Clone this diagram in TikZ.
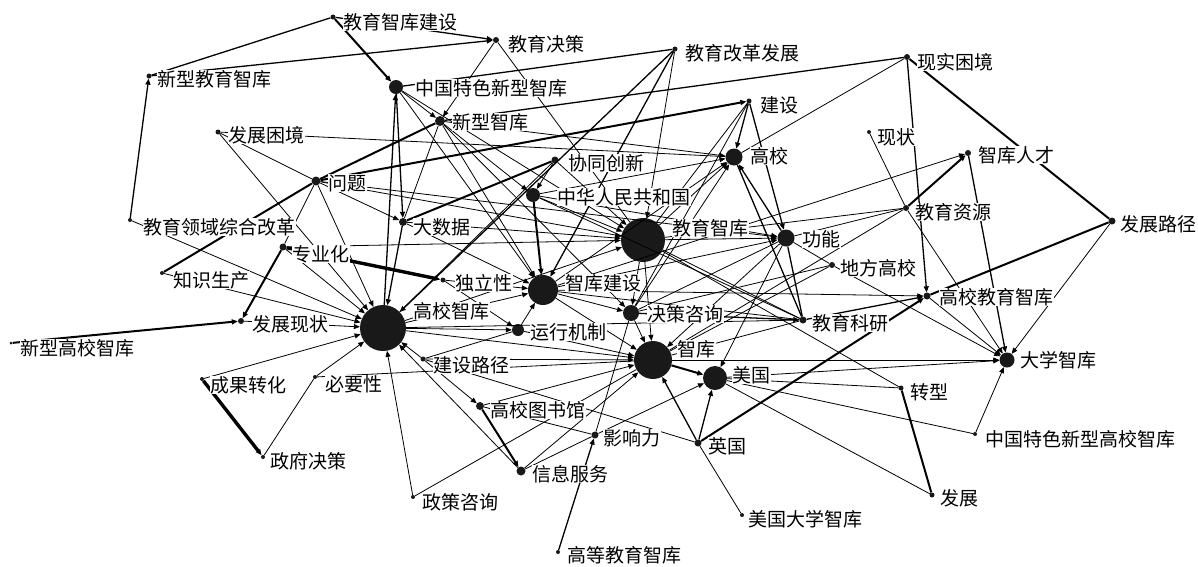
\documentclass[tikz,border=0pt]{standalone}
\usepackage{fontspec}
\setmainfont{Noto Sans CJK SC}
\usetikzlibrary{arrows.meta}
\begin{document}
\begin{tikzpicture}[x=1pt,y=-1pt,
  dot/.style={circle,fill=black!90,draw=none,inner sep=0pt,minimum size=#1},
  dot/.default=5pt,
  lab/.style={anchor=west,fill=white,inner sep=0.3pt,font=\fontsize{19}{19}\selectfont},
  lnA/.style={line width=0.8pt},
  lnB/.style={line width=1.3pt},
  lnC/.style={line width=2pt},
  lnD/.style={line width=3.4pt},
  arr/.style={-{Triangle[length=6pt,width=5pt]}},
]
\useasboundingbox (0,0) rectangle (1198,566);
% ---------- dots ----------
\node[dot=5pt]  (jyzkjs) at (333,17) {};
\node[dot=6pt]  (jyjc)   at (496,40) {};
\node[dot=5pt]  (xxjyzk) at (149,76) {};
\node[dot=14pt] (zgtsxxzk) at (396,87) {};
\node[dot=5pt]  (jygg)   at (675,49) {};
\node[dot=6pt]  (xskj)   at (907,57) {};
\node[dot=10pt] (xxzk)   at (440,121) {};
\node[dot=5pt]  (js)     at (749,101) {};
\node[dot=5pt]  (fzkj)   at (218,132) {};
\node[dot=17pt] (gx)     at (734,157) {};
\node[dot=4pt]  (xz)     at (869,132) {};
\node[dot=6pt]  (zkrc)   at (968,153) {};
\node[dot=7pt]  (xtcx)   at (555,160) {};
\node[dot=9pt]  (wt)     at (316,181) {};
\node[dot=14pt] (zhrm)   at (533,195) {};
\node[dot=4pt]  (jylyzh) at (130,220) {};
\node[dot=8pt]  (dsj)    at (403,222) {};
\node[dot=44pt] (jyzk)   at (643,240) {};
\node[dot=6pt]  (jyzy)   at (906,208) {};
\node[dot=17pt] (gn)     at (786,238) {};
\node[dot=7pt]  (fzlj)   at (1112,221) {};
\node[dot=7pt]  (zyh)    at (283,247) {};
\node[dot=4pt]  (zssc)   at (162,273) {};
\node[dot=6pt]  (dfgx)   at (832,265) {};
\node[dot=5pt]  (dlx)    at (443,280) {};
\node[dot=30pt] (zkjs)   at (543,290) {};
\node[dot=46pt] (gxzk)   at (383,328) {};
\node[dot=6pt]  (fzxz)   at (241,321) {};
\node[dot=7pt]  (gxjyzk) at (927,296) {};
\node[dot=16pt] (jczx)   at (631,313) {};
\node[dot=7pt]  (jyky)   at (803,320) {};
\node[dot=3pt]  (xxgxzk) at (11,343) {};
\node[dot=12pt] (yxjz)   at (518,330) {};
\node[dot=38pt] (zk)     at (653,360) {};
\node[dot=24pt] (mg)     at (715,378) {};
\node[dot=15pt] (dxzk)   at (1007,360) {};
\node[dot=5pt]  (jslj)   at (423,359) {};
\node[dot=4pt]  (cgzh)   at (202,379) {};
\node[dot=4pt]  (byx)    at (315,377) {};
\node[dot=5pt]  (zx)     at (901,388) {};
\node[dot=8pt]  (gxtsg)  at (480,406) {};
\node[dot=7pt]  (yxl)    at (595,435) {};
\node[dot=7pt]  (yg)     at (698,443) {};
\node[dot=4pt]  (zgtsgx) at (975,434) {};
\node[dot=4pt]  (zfjc)   at (263,457) {};
\node[dot=9pt]  (xxfw)   at (521,471) {};
\node[dot=4pt]  (zczx)   at (413,497) {};
\node[dot=5pt]  (fz)     at (932,495) {};
\node[dot=4pt]  (mgdx)   at (742,515) {};
\node[dot=4pt]  (gdjy)   at (558,552) {};
% ---------- connectors ----------
\draw[lnB] (jyzkjs) -- (xxjyzk);
\draw[lnB,arr] (jyzkjs) -- (jyjc);
\draw[lnC,arr] (jyzkjs) -- (zgtsxxzk);
\draw[lnB,arr] (xxjyzk) -- (jyjc);
\draw[lnB,arr] (jylyzh) -- (xxjyzk);
\draw[lnA,arr] (jyjc) -- (xxzk);
\draw[lnA] (jyjc) -- (jyzk);
\draw[lnB] (jygg) -- (zgtsxxzk);
\draw[lnB,arr] (jygg) -- (gxzk);
\draw[lnB,arr] (jygg) -- (zkjs);
\draw[lnA,arr] (jygg) -- (jyzk);
\draw[lnB] (xskj) -- (xxzk);
\draw[lnA] (xskj) -- (gx);
\draw[lnB,arr] (xskj) -- (gxjyzk);
\draw[lnC] (xskj) -- (fzlj);
\draw[lnC,arr] (jyzy) -- (zkrc);
\draw[lnB,arr] (zkrc) -- (dxzk);
\draw[lnA,arr] (zkjs) -- (zkrc);
\draw[lnA] (jyzy) -- (jyzk);
\draw[lnA] (jyzy) -- (gn);
\draw[lnA] (jyzy) -- (zk);
\draw[lnA] (xz) -- (jyzy);
\draw[lnA,arr] (jyzy) -- (dxzk);
\draw[lnC] (gxjyzk) -- (fzlj);
\draw[lnA,arr] (fzlj) -- (dxzk);
\draw[lnA,arr] (gxjyzk) -- (dxzk);
\draw[lnA,arr] (dfgx) -- (dxzk);
\draw[lnA,arr] (zk) -- (dxzk);
\draw[lnA,arr] (mg) -- (dxzk);
\draw[lnA,arr] (zgtsgx) -- (dxzk);
\draw[lnA] (mg) -- (zgtsgx);
\draw[lnA] (mg) -- (zx);
\draw[lnA] (jyzk) -- (zx);
\draw[lnC] (zx) -- (fz);
\draw[lnA] (mg) -- (fz);
\draw[lnC,arr] (yg) -- (gxjyzk);
\draw[lnB,arr] (yg) -- (zk);
\draw[lnB,arr] (yg) -- (mg);
\draw[lnA] (yg) -- (mgdx);
\draw[lnA] (jslj) -- (yg);
\draw[lnC,arr] (zk) -- (mg);
\draw[lnA,arr] (gn) -- (mg);
\draw[lnA,arr] (yxl) -- (mg);
\draw[lnA] (zk) -- (jyky);
\draw[lnB,arr] (jczx) -- (jyky);
\draw[lnA] (jczx) -- (gn);
\draw[lnA] (jczx) -- (dfgx);
\draw[lnB,arr] (jyky) -- (gxjyzk);
\draw[lnB] (gn) -- (jyky);
\draw[lnB] (gx) -- (jyky);
\draw[lnA] (jyzk) -- (jyky);
\draw[lnA] (zhrm) -- (jyky);
\draw[lnB,arr] (js) -- (gx);
\draw[lnA,arr] (xxzk) -- (gx);
\draw[lnA,arr] (zhrm) -- (gx);
\draw[lnA,arr] (jyzk) -- (gx);
\draw[lnA,arr] (zkjs) -- (gx);
\draw[lnA,arr] (jczx) -- (gx);
\draw[lnB,arr] (gn) -- (gx);
\draw[lnC,arr] (wt) -- (js);
\draw[lnA] (js) -- (jyzk);
\draw[lnA] (js) -- (jczx);
\draw[lnB,arr] (js) -- (gn);
\draw[lnA,arr] (jyzk) -- (gn);
\draw[lnA,arr] (zkjs) -- (gn);
\draw[lnA,arr] (zhrm) -- (gn);
\draw[lnA,arr] (gn) -- (zk);
\draw[lnA] (gn) -- (dfgx);
\draw[lnA] (zk) -- (dfgx);
\draw[lnA,arr] (zkjs) -- (gxjyzk);
\draw[lnC] (wt) -- (zssc);
\draw[lnA] (wt) -- (zyh);
\draw[lnA,arr] (wt) -- (gxzk);
\draw[lnA] (fzkj) -- (wt);
\draw[lnA,arr] (fzkj) -- (gxzk);
\draw[lnA] (fzkj) -- (gx);
\draw[lnA,arr] (wt) -- (gn);
\draw[lnA,arr] (wt) -- (jyzk);
\draw[lnA,arr] (wt) -- (dsj);
\draw[lnA,arr] (jylyzh) -- (gxzk);
\draw[lnB,arr] (zgtsxxzk) -- (dsj);
\draw[lnB,arr] (dsj) -- (gxzk);
\draw[lnB,arr] (gxzk) -- (zgtsxxzk);
\draw[lnA] (xxzk) -- (dsj);
\draw[lnC] (xtcx) -- (dsj);
\draw[lnA,arr] (dsj) -- (zkjs);
\draw[lnA,arr] (dsj) -- (jyzk);
\draw[lnA,arr] (zgtsxxzk) -- (xxzk);
\draw[lnA,arr] (zgtsxxzk) -- (zkjs);
\draw[lnA,arr] (zgtsxxzk) -- (jyzk);
\draw[lnA,arr] (xxzk) -- (zhrm);
\draw[lnA,arr] (xxzk) -- (zkjs);
\draw[lnA,arr] (xxzk) -- (jczx);
\draw[lnC] (wt) -- (xxzk);
\draw[lnC,arr] (zhrm) -- (zkjs);
\draw[lnA,arr] (zhrm) -- (jyzk);
\draw[lnA,arr] (xtcx) -- (zhrm);
\draw[lnA,arr] (xtcx) -- (jyzk);
\draw[lnA,arr] (zyh) -- (jyzk);
\draw[lnA,arr] (zkjs) -- (zk);
\draw[lnA,arr] (zkjs) -- (jczx);
\draw[lnA,arr] (gxzk) -- (zkjs);
\draw[lnA,arr] (dlx) -- (zkjs);
\draw[lnA,arr] (dlx) -- (yxjz);
\draw[lnA] (xtcx) -- (gxzk);
\draw[lnD,arr] (zyh) -- (dlx);
\draw[lnC,arr] (zyh) -- (fzxz);
\draw[lnA,arr] (zyh) -- (gxzk);
\draw[lnC,arr] (xxgxzk) -- (fzxz);
\draw[lnA,arr] (fzxz) -- (gxzk);
\draw[lnA,arr] (zssc) -- (gxzk);
\draw[lnD,arr] (cgzh) -- (zfjc);
\draw[lnA,arr] (cgzh) -- (gxzk);
\draw[lnA,arr] (byx) -- (gxzk);
\draw[lnA] (zfjc) -- (byx);
\draw[lnA,arr] (jslj) -- (gxzk);
\draw[lnA,arr] (jslj) -- (zk);
\draw[lnA,arr] (gxzk) -- (zk);
\draw[lnA,arr] (jslj) -- (gxtsg);
\draw[lnC,arr] (gxtsg) -- (xxfw);
\draw[lnA,arr] (xxfw) -- (gxzk);
\draw[lnA,arr] (gxtsg) -- (zk);
\draw[lnA] (zczx) -- (zk);
\draw[lnA,arr] (zczx) -- (gxzk);
\draw[lnA] (gxtsg) -- (yxl);
\draw[lnA] (xxfw) -- (yxl);
\draw[lnA,arr] (xxfw) -- (zk);
\draw[lnB,arr] (gdjy) -- (yxl);
\draw[lnA] (yxl) -- (jczx);
\draw[lnA,arr] (yxjz) -- (zkjs);
\draw[lnA,arr] (gxzk) -- (yxjz);
\draw[lnA,arr] (yxjz) -- (zk);
\draw[lnA] (yxjz) -- (jslj);
\draw[lnA,arr] (jczx) -- (zk);
\draw[lnA,arr] (jyzk) -- (zk);
\draw[lnA,arr] (jyzk) -- (jczx);
\draw[lnA,arr] (gxzk) -- (jyzk);
\draw[lnA] (byx) -- (zk);
\draw[lnA] (gxzk) -- (jyky);
\draw[lnA] (zkjs) -- (jyky);
% ---------- labels ----------
\node[lab] (L1)  at (343,22)  {教育智库建设};
\node[lab] (L2)  at (508,44)  {教育决策};
\node[lab] (L3)  at (157,79)  {新型教育智库};
\node[lab] (L4)  at (415,88)  {中国特色新型智库};
\node[lab] (L5)  at (685,53)  {教育改革发展};
\node[lab] (L6)  at (917,62)  {现实困境};
\node[lab] (L7)  at (452,122) {新型智库};
\node[lab] (L8)  at (760,105) {建设};
\node[lab] (L9)  at (228,135) {发展困境};
\node[lab] (L10) at (750,156) {高校};
\node[lab] (L11) at (877,137) {现状};
\node[lab] (L12) at (978,155) {智库人才};
\node[lab] (L13) at (568,163) {协同创新};
\node[lab] (L14) at (328,183) {问题};
\node[lab] (L15) at (557,197) {中华人民共和国};
\node[lab] (L16) at (143,227) {教育领域综合改革};
\node[lab] (L17) at (413,227) {大数据};
\node[lab] (L18) at (672,228) {教育智库};
\node[lab] (L19) at (915,212) {教育资源};
\node[lab] (L20) at (802,239) {功能};
\node[lab] (L21) at (1120,224) {发展路径};
\node[lab] (L22) at (292,254) {专业化};
\node[lab] (L23) at (173,280) {知识生产};
\node[lab] (L24) at (840,268) {地方高校};
\node[lab] (L25) at (455,283) {独立性};
\node[lab] (L26) at (565,283) {智库建设};
\node[lab] (L27) at (413,311) {高校智库};
\node[lab] (L28) at (252,324) {发展现状};
\node[lab] (L29) at (939,297) {高校教育智库};
\node[lab] (L30) at (647,314) {决策咨询};
\node[lab] (L31) at (812,323) {教育科研};
\node[lab] (L32) at (20,348)  {新型高校智库};
\node[lab] (L33) at (530,332) {运行机制};
\node[lab] (L34) at (677,349) {智库};
\node[lab] (L35) at (732,375) {美国};
\node[lab] (L36) at (1020,360) {大学智库};
\node[lab] (L37) at (433,365) {建设路径};
\node[lab] (L38) at (210,385) {成果转化};
\node[lab] (L39) at (325,384) {必要性};
\node[lab] (L40) at (910,392) {转型};
\node[lab] (L41) at (490,410) {高校图书馆};
\node[lab] (L42) at (603,438) {影响力};
\node[lab] (L43) at (708,446) {英国};
\node[lab] (L44) at (985,439) {中国特色新型高校智库};
\node[lab] (L45) at (270,461) {政府决策};
\node[lab] (L46) at (532,474) {信息服务};
\node[lab] (L47) at (422,502) {政策咨询};
\node[lab] (L48) at (940,498) {发展};
\node[lab] (L49) at (748,519) {美国大学智库};
\node[lab] (L50) at (567,555) {高等教育智库};
\end{tikzpicture}
\end{document}
